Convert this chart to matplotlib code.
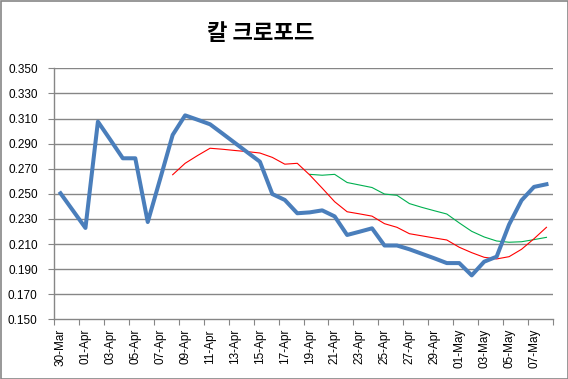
import matplotlib
matplotlib.use("Agg")
import matplotlib.pyplot as plt
from matplotlib.patches import Rectangle
import numpy as np

# ---- data ----
dates = ["30-Mar", "31-Mar"] + [f"{d:02d}-Apr" for d in range(1, 31)] + [f"{d:02d}-May" for d in range(1, 9)]

avg = [0.2504, None, 0.2228, 0.3075, 0.2930, 0.2783, 0.2783, 0.2275, 0.2620, 0.2969,
       0.3125, 0.3090, 0.3054, 0.2980, 0.2905, 0.2830, 0.2756, 0.2498, 0.2451, 0.2345,
       0.2352, 0.2368, 0.2320, 0.2172, 0.2198, 0.2225, 0.2088, 0.2088, 0.2058, 0.2022,
       0.1986, 0.1948, 0.1948, 0.1850, 0.1959, 0.1999, 0.2255, 0.2448, 0.2555, 0.2576]

ma_red = [None]*9 + [0.2652, 0.2743, 0.2805, 0.2863, 0.2855, 0.2845, 0.2836, 0.2825, 0.2790,
                     0.2736, 0.2743, 0.2650, 0.2545, 0.2437, 0.2357, 0.2340, 0.2322, 0.2262,
                     0.2233, 0.2182, 0.2165, 0.2148, 0.2132, 0.2074, 0.2031, 0.1994, 0.1981,
                     0.1999, 0.2058, 0.2142, 0.2233]

ma_green = [None]*20 + [0.2655, 0.2648, 0.2655, 0.2590, 0.2570, 0.2550, 0.2498, 0.2488,
                        0.2422, 0.2392, 0.2365, 0.2339, 0.2268, 0.2201, 0.2156, 0.2124,
                        0.2114, 0.2118, 0.2135, 0.2153]

yticks = [0.150, 0.170, 0.190, 0.210, 0.230, 0.250, 0.270, 0.290, 0.310, 0.330, 0.350]
title = "칼 크로포드"

# ---- figure ----
fig = plt.figure(figsize=(5.68, 3.79), dpi=100)
ax = fig.add_axes([54.3/568, 1-319.3/379, (552.7-54.3)/568, (319.3-68.3)/379])

def valid(series):
    xs = [i for i, v in enumerate(series) if v is not None]
    ys = [series[i] for i in xs]
    return xs, ys

gray = "#868686"
for y in yticks[1:]:
    ax.axhline(y, color=gray, lw=1.0, zorder=0)

x, y = valid(ma_green)
ax.plot(x, y, color="#00b050", lw=0.8, zorder=2)
x, y = valid(ma_red)
ax.plot(x, y, color="#ff0000", lw=0.8, zorder=3)
x, y = valid(avg)
ax.plot(x, y, color="#4a7ebb", lw=2.9, zorder=4, solid_joinstyle="round")

n = len(dates)
ax.set_xlim(-0.5, n - 0.5)
ax.set_ylim(0.150, 0.350)
ax.set_yticks(yticks)
ax.set_yticklabels([f"{v:.3f}" for v in yticks], fontsize=8.5, family="Liberation Sans")

ax.set_xticks(np.arange(-0.5, n, 2))
ax.set_xticklabels([])
ax.set_xticks(np.arange(0, n, 2), minor=True)
ax.set_xticklabels([dates[i] for i in range(0, n, 2)], minor=True, rotation=90,
                   fontsize=8.5, family="Liberation Sans")
ax.tick_params(axis="x", which="minor", length=0, pad=7)
ax.tick_params(axis="x", which="major", length=4, color=gray, direction="out")
ax.tick_params(axis="y", length=4, color=gray, direction="out", pad=8)

for s in ["top", "right"]:
    ax.spines[s].set_visible(False)
for s in ["left", "bottom"]:
    ax.spines[s].set_color(gray)
    ax.spines[s].set_linewidth(1.0)

fig.text(261/568, 1-33/379, title, ha="center", va="center", fontsize=16,
         fontweight="bold", family=["Noto Sans CJK KR", "DejaVu Sans"])

fig.patches.append(Rectangle((0.5/568, 0.5/379), 1-1/568, 1-1/379, transform=fig.transFigure,
                             fill=False, edgecolor=gray, lw=1.2))

fig.savefig("out.png", dpi=100)
